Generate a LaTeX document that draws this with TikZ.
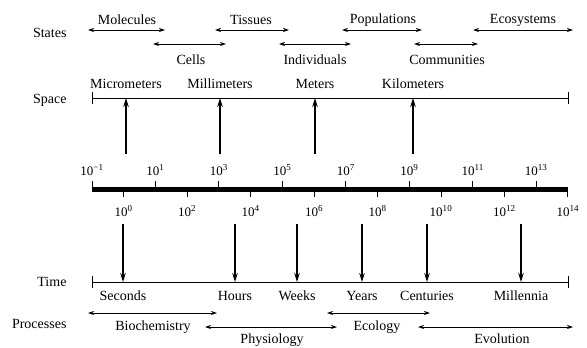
\documentclass[tikz,border=0pt]{standalone}
\usepackage{fontspec}
\setmainfont{Liberation Serif}
\usetikzlibrary{arrows.meta}

\begin{document}
\begin{tikzpicture}[x=1pt, y=-1pt, font=\fontsize{14}{16}\selectfont,
    dbl/.style={{Stealth[length=6pt,width=4pt]}-{Stealth[length=6pt,width=4pt]}, line width=0.8pt},
    arr/.style={-{Stealth[length=9pt,width=5.5pt]}, line width=1.5pt},
    axisline/.style={line width=0.9pt},
    num/.style={font=\fontsize{13}{15}\selectfont, inner sep=0pt}]
    \useasboundingbox (0,0) rectangle (587,348);
    % row titles
    \node[anchor=east] (st) at (70,33)  {States};
    \node[anchor=east] (sp) at (70,100) {Space};
    \node[anchor=east] (tm) at (70,282) {Time};
    \node[anchor=east] (pr) at (70,324) {Processes};
    % states
    \node (mol) at (127,20) {Molecules};
    \node (tis) at (251,20) {Tissues};
    \node (pop) at (383,20) {Populations};
    \node (eco) at (523,20) {Ecosystems};
    \node (cel) at (191,60) {Cells};
    \node (ind) at (315,60) {Individuals};
    \node (com) at (447,60) {Communities};
    \coordinate (molA) at (88,30);  \coordinate (molB) at (165,30);
    \coordinate (tisA) at (215,30); \coordinate (tisB) at (289,30);
    \coordinate (popA) at (342,30); \coordinate (popB) at (422,30);
    \coordinate (ecoA) at (473,30); \coordinate (ecoB) at (573,30);
    \coordinate (celA) at (153,44); \coordinate (celB) at (226,44);
    \coordinate (indA) at (279,44); \coordinate (indB) at (351,44);
    \coordinate (comA) at (414,44); \coordinate (comB) at (478,44);
    \draw[dbl] (molA) -- (molB);
    \draw[dbl] (tisA) -- (tisB);
    \draw[dbl] (popA) -- (popB);
    \draw[dbl] (ecoA) -- (ecoB);
    \draw[dbl] (celA) -- (celB);
    \draw[dbl] (indA) -- (indB);
    \draw[dbl] (comA) -- (comB);
    % space
    \node (mic) at (126,84) {Micrometers};
    \node (mmt) at (220,84) {Millimeters};
    \node (met) at (315,84) {Meters};
    \node (kil) at (413,84) {Kilometers};
    \coordinate (spL) at (92,98);  \coordinate (spR) at (568,98);
    \draw[axisline] (spL) -- (spR);
    \draw[axisline] ([yshift=-6]spL) -- ([yshift=6]spL);
    \draw[axisline] ([yshift=-6]spR) -- ([yshift=6]spR);
    \coordinate (up) at (0,154);
    \foreach \n in {mic,mmt,met,kil}
      \draw[arr] (\n |- up) -- (\n |- spL);
    % scale bar
    \coordinate (lo) at (92,189); \coordinate (hi) at (568,189);
    \draw[line width=5pt] (lo) -- (hi);
    \foreach \d in {-1,1,...,13}
      \draw[line width=1pt] ({92+(\d+1)*31.73},189) -- ++(0,-8);
    \foreach \d in {0,2,...,14}
      \draw[line width=1pt] ({92+(\d+1)*31.73},189) -- ++(0,8);
    \node[num] (e-1) at (92,170) {10\textsuperscript{−1}};
    \foreach \d in {1,3,...,13}
      \node[num] (e\d) at ({92+(\d+1)*31.73},170) {10\textsuperscript{\d}};
    \foreach \d in {0,2,...,14}
      \node[num] (e\d) at ({92+(\d+1)*31.73},211) {10\textsuperscript{\d}};
    % time
    \node (sec) at (123,296) {Seconds};
    \node (hou) at (235,296) {Hours};
    \node (wee) at (297,296) {Weeks};
    \node (yea) at (362,296) {Years};
    \node (cen) at (427,296) {Centuries};
    \node (mln) at (521,296) {Millennia};
    \coordinate (tmL) at (92,282); \coordinate (tmR) at (568,282);
    \draw[axisline] (tmL) -- (tmR);
    \draw[axisline] ([yshift=-6]tmL) -- ([yshift=6]tmL);
    \draw[axisline] ([yshift=-6]tmR) -- ([yshift=6]tmR);
    \coordinate (dn) at (0,224);
    \foreach \n in {sec,hou,wee,yea,cen,mln}
      \draw[arr] (\n |- dn) -- (\n |- tmL);
    % processes
    \node (bio) at (153,327) {Biochemistry};
    \node (phy) at (272,340) {Physiology};
    \node (ecl) at (377,327) {Ecology};
    \node (evo) at (502,339) {Evolution};
    \coordinate (bioA) at (88,313);  \coordinate (bioB) at (217,313);
    \coordinate (phyA) at (205,327); \coordinate (phyB) at (337,327);
    \coordinate (eclA) at (327,313); \coordinate (eclB) at (430,313);
    \coordinate (evoA) at (418,327); \coordinate (evoB) at (573,327);
    \draw[dbl] (bioA) -- (bioB);
    \draw[dbl] (phyA) -- (phyB);
    \draw[dbl] (eclA) -- (eclB);
    \draw[dbl] (evoA) -- (evoB);
  \end{tikzpicture}
\end{document}
